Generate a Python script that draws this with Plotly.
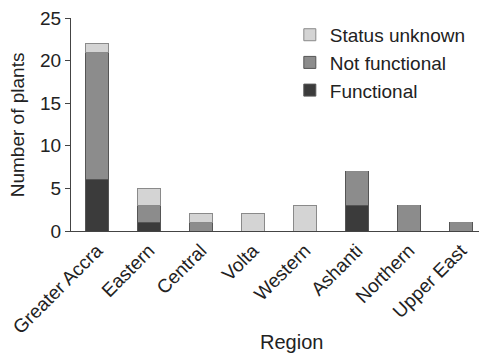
import plotly.graph_objects as go

regions = ["Greater Accra", "Eastern", "Central", "Volta", "Western", "Ashanti", "Northern", "Upper East"]
functional = [6, 1, 0, 0, 0, 3, 0, 0]
not_functional = [15, 2, 1, 0, 0, 4, 3, 1]
status_unknown = [1, 2, 1, 2, 3, 0, 0, 0]

font = "Liberation Sans, Arial, sans-serif"
line_col = "#555555"

fig = go.Figure()
fig.add_trace(go.Bar(x=regions, y=functional, name="Functional",
                     marker=dict(color="#3b3b3b", line=dict(color=line_col, width=1))))
fig.add_trace(go.Bar(x=regions, y=not_functional, name="Not functional",
                     marker=dict(color="#8c8c8c", line=dict(color=line_col, width=1))))
fig.add_trace(go.Bar(x=regions, y=status_unknown, name="Status unknown",
                     marker=dict(color="#d4d4d4", line=dict(color="#8a8a8a", width=1))))

# the page body has an 8px default margin, so the figure is sized/placed to compensate
fig.update_layout(
    barmode="stack",
    bargap=0.57,
    width=479, height=347,
    margin=dict(l=63, r=0, t=10, b=124),
    paper_bgcolor="white", plot_bgcolor="white",
    font=dict(family=font, size=19, color="#222222"),
    showlegend=True,
    legend=dict(traceorder="reversed", x=0.526, y=1.01, xanchor="left", yanchor="top",
                font=dict(size=19), bgcolor="rgba(0,0,0,0)", itemwidth=30,
                tracegroupgap=0),
    xaxis=dict(range=[-0.5, 7.5], showline=True, linecolor="#444444", linewidth=1,
               ticks="", tickangle=-45, tickfont=dict(size=19), automargin=False,
               ticklabeloverflow="allow"),
    yaxis=dict(range=[0, 25], dtick=5, showline=True, linecolor="#444444", linewidth=1,
               ticks="outside", ticklen=5, tickcolor="#444444", showgrid=False, zeroline=False,
               tickfont=dict(size=19), automargin=False, ticklabeloverflow="allow"),
    annotations=[
        dict(text="Number of plants", xref="paper", yref="paper", x=-0.128, y=0.5,
             xanchor="center", yanchor="middle", textangle=-90, showarrow=False,
             font=dict(size=19)),
        dict(text="Region", xref="paper", yref="paper", x=0.531, y=-0.521,
             xanchor="center", yanchor="middle", showarrow=False, font=dict(size=20)),
    ],
)

fig.write_html("out.html")
